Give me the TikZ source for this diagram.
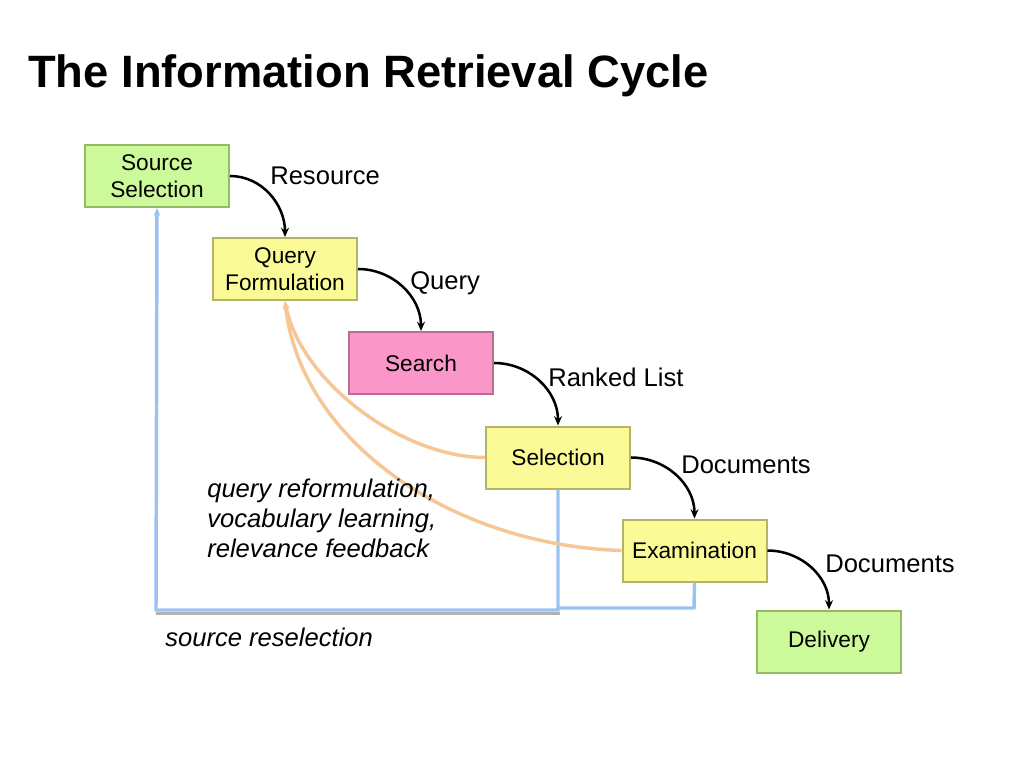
\documentclass[tikz,border=0pt]{standalone}
\usepackage{fontspec}
\setmainfont{Liberation Sans}
\usetikzlibrary{arrows.meta}
\definecolor{gfill}{RGB}{204,250,155}
\definecolor{gdraw}{RGB}{150,185,100}
\definecolor{yfill}{RGB}{250,250,150}
\definecolor{ydraw}{RGB}{180,180,100}
\definecolor{pfill}{RGB}{250,150,200}
\definecolor{pdraw}{RGB}{185,110,145}
\definecolor{orng}{RGB}{246,198,150}
\definecolor{blu}{RGB}{155,195,240}
\begin{document}
\begin{tikzpicture}[x=0.75pt,y=-0.75pt,
  box/.style={draw, line width=1.5pt, minimum width=108pt, minimum height=46.5pt, inner sep=0pt, align=center, font=\fontsize{17}{20.5}\selectfont},
  gbox/.style={box, fill=gfill, draw=gdraw},
  ybox/.style={box, fill=yfill, draw=ydraw},
  pbox/.style={box, fill=pfill, draw=pdraw},
  lbl/.style={anchor=west, inner sep=0pt, font=\fontsize{19.2}{23}\selectfont},
  flow/.style={line width=1.9pt, -{Stealth[length=7pt,width=6pt]}},
  fb/.style={draw=orng, line width=2.6pt, -{Stealth[length=6pt,width=5pt]}},
  rs/.style={draw=blu, line width=2.6pt},
]
\useasboundingbox (0,0) rectangle (1024,768);
\node[anchor=base west, inner sep=0pt, font=\fontsize{34}{40}\bfseries] (title) at (28,87) {The Information Retrieval Cycle};

\node[gbox] (src) at (157,176) {Source\\Selection};
\node[ybox] (qf) at (285,269) {Query\\Formulation};
\node[pbox] (srch) at (421,363) {Search};
\node[ybox] (sel) at (558,457.5) {Selection};
\node[ybox] (exam) at (694.5,550.5) {Examination};
\node[gbox] (del) at (829,641.5) {Delivery};

\draw[flow] (src.east) to[out=0,in=90] (qf.north);
\draw[flow] (qf.east) to[out=0,in=90] (srch.north);
\draw[flow] (srch.east) to[out=0,in=90] (sel.north);
\draw[flow] (sel.east) to[out=0,in=90] (exam.north);
\draw[flow] (exam.east) to[out=0,in=90] (del.north);

\node[lbl] (lres) at (270,176) {Resource};
\node[lbl] (lq) at (410,283) {Query};
\node[lbl] (lrl) at (548,377) {Ranked List};
\node[lbl] (ld1) at (681,465) {Documents};
\node[lbl] (ld2) at (825,564) {Documents};

% source reselection loop
\coordinate (c1) at (558,610);
\coordinate (c2) at (156,610);
\coordinate (c3) at (694,608);
\coordinate (c4) at (558,608);
\draw[gray!60, line width=2.5pt] (156,613.5) -- (560,613.5);
\draw[rs] (exam.south) -- (c3) -- (c4);
\draw[rs, -{Stealth[length=6pt,width=5pt]}] (sel.south) -- (c1) -- (c2) -- (src.south);

% feedback curves
\draw[fb] (sel.west) .. controls (400,457) and (300,380) .. (qf.south);
\draw[fb] (exam.west) .. controls (450,545) and (300,440) .. (qf.south);

\node[anchor=north west, inner sep=0pt, align=left, font=\fontsize{19.2}{22.5}\itshape] (fbtxt) at (207,479) {query reformulation,\\vocabulary learning,\\relevance feedback};
\node[lbl, font=\fontsize{19.2}{23}\itshape] (srtxt) at (165,637) {source reselection};
\end{tikzpicture}
\end{document}
